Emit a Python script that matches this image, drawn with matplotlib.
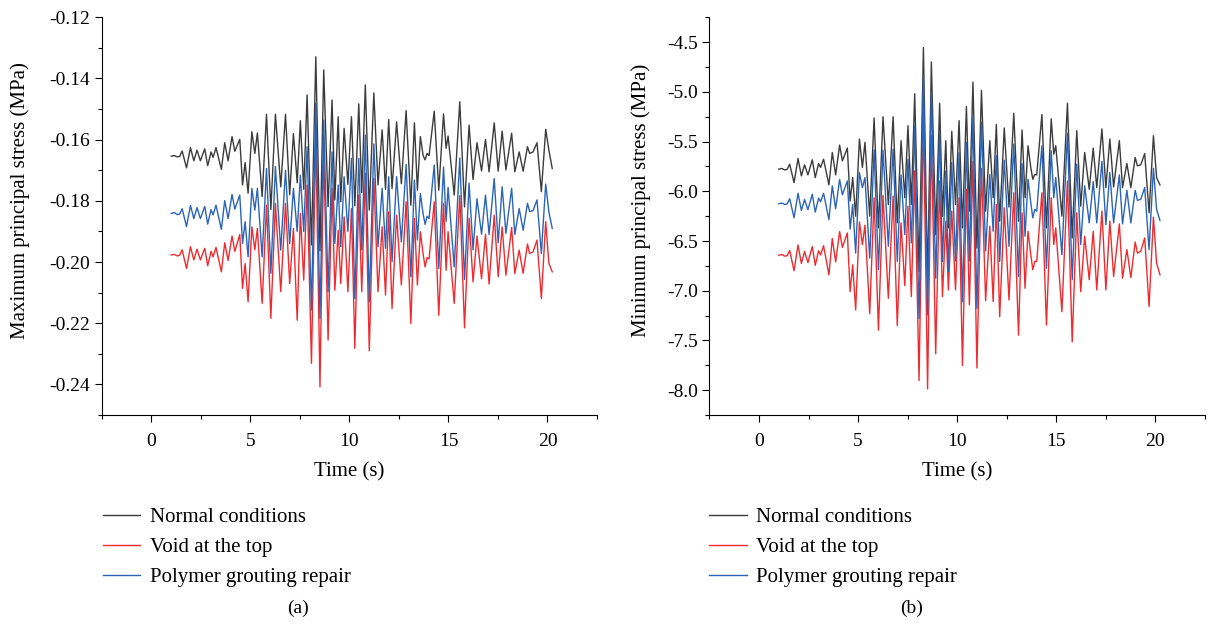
import numpy as np
import matplotlib
matplotlib.use('Agg')
import matplotlib.pyplot as plt
from matplotlib.ticker import MultipleLocator, FormatStrFormatter

plt.rcParams['font.family'] = ['Liberation Serif', 'DejaVu Serif']
plt.rcParams['axes.unicode_minus'] = False

# time of each read peak / trough (s), shared by all curves
time_s = [1.00, 1.15, 1.30, 1.42, 1.55, 1.77, 1.97, 2.14, 2.30, 2.47,
          2.69, 2.84, 3.01, 3.11, 3.26, 3.53, 3.70, 3.87, 4.07, 4.21,
          4.46, 4.60, 4.73, 4.88, 5.07, 5.22, 5.35, 5.59, 5.81, 6.03,
          6.26, 6.53, 6.77, 6.98, 7.17, 7.36, 7.52, 7.69, 7.86, 8.08,
          8.30, 8.51, 8.70, 8.92, 9.12, 9.26, 9.43, 9.56, 9.73, 9.92,
          10.10, 10.27, 10.47, 10.62, 10.80, 11.00, 11.23, 11.44, 11.65, 11.82,
          11.98, 12.15, 12.38, 12.62, 12.86, 13.10, 13.28, 13.43, 13.58, 13.72,
          13.82, 13.92, 14.02, 14.28, 14.51, 14.75, 14.88, 14.98, 15.29, 15.57,
          15.81, 16.04, 16.24, 16.44, 16.67, 16.87, 17.05, 17.31, 17.51, 17.71,
          17.90, 18.19, 18.35, 18.57, 18.77, 18.99, 19.10, 19.27, 19.47, 19.69,
          19.91, 20.07, 20.24]

# (a) maximum principal stress (MPa)
max_normal = [-0.1654, -0.1652, -0.1656, -0.1655, -0.1637, -0.1692, -0.1626, -0.1669, -0.1634, -0.1669,
              -0.1630, -0.1685, -0.1640, -0.1658, -0.1626, -0.1697, -0.1610, -0.1669, -0.1590, -0.1638,
              -0.1599, -0.1748, -0.1675, -0.1775, -0.1574, -0.1645, -0.1578, -0.1786, -0.1517, -0.1828,
              -0.1517, -0.1754, -0.1517, -0.1780, -0.1580, -0.1741, -0.1538, -0.1762, -0.1454, -0.1944,
              -0.1329, -0.1963, -0.1372, -0.1819, -0.1470, -0.1797, -0.1525, -0.1803, -0.1563, -0.1746,
              -0.1525, -0.1816, -0.1483, -0.1773, -0.1421, -0.1830, -0.1447, -0.1748, -0.1568, -0.1762,
              -0.1534, -0.1760, -0.1542, -0.1744, -0.1505, -0.1814, -0.1545, -0.1765, -0.1590, -0.1652,
              -0.1666, -0.1645, -0.1652, -0.1507, -0.1765, -0.1516, -0.1628, -0.1588, -0.1781, -0.1476,
              -0.1820, -0.1552, -0.1730, -0.1610, -0.1702, -0.1599, -0.1705, -0.1545, -0.1703, -0.1572,
              -0.1699, -0.1579, -0.1705, -0.1640, -0.1703, -0.1623, -0.1645, -0.1640, -0.1610, -0.1770,
              -0.1566, -0.1634, -0.1694]
max_void = [-0.1977, -0.1975, -0.1980, -0.1978, -0.1960, -0.2021, -0.1950, -0.1993, -0.1958, -0.1993,
            -0.1955, -0.2012, -0.1965, -0.1983, -0.1952, -0.2032, -0.1937, -0.1995, -0.1915, -0.1965,
            -0.1910, -0.2086, -0.2005, -0.2130, -0.1885, -0.1960, -0.1890, -0.2135, -0.1814, -0.2184,
            -0.1808, -0.2097, -0.1808, -0.2070, -0.1890, -0.2190, -0.1841, -0.2059, -0.1748, -0.2331,
            -0.1585, -0.2408, -0.1640, -0.2255, -0.1759, -0.2092, -0.1896, -0.2070, -0.1852, -0.2097,
            -0.1825, -0.2282, -0.1781, -0.2097, -0.1710, -0.2290, -0.1727, -0.2097, -0.1885, -0.2108,
            -0.1836, -0.2152, -0.1847, -0.2075, -0.1803, -0.2201, -0.1857, -0.2075, -0.1901, -0.1975,
            -0.2016, -0.1985, -0.1990, -0.1803, -0.2174, -0.1808, -0.2027, -0.1901, -0.2135, -0.1783,
            -0.2215, -0.1857, -0.2065, -0.1915, -0.2055, -0.1909, -0.2072, -0.1847, -0.2048, -0.1885,
            -0.2043, -0.1887, -0.2038, -0.1961, -0.2037, -0.1941, -0.1972, -0.1967, -0.1928, -0.2119,
            -0.1868, -0.2004, -0.2032]
max_repair = [-0.1841, -0.1838, -0.1845, -0.1843, -0.1826, -0.1884, -0.1815, -0.1858, -0.1822, -0.1858,
              -0.1818, -0.1876, -0.1829, -0.1846, -0.1814, -0.1893, -0.1799, -0.1858, -0.1779, -0.1827,
              -0.1781, -0.1939, -0.1868, -0.1983, -0.1759, -0.1830, -0.1759, -0.1983, -0.1694, -0.2037,
              -0.1688, -0.1961, -0.1700, -0.1940, -0.1759, -0.1900, -0.1716, -0.1900, -0.1623, -0.2157,
              -0.1481, -0.2184, -0.1536, -0.2097, -0.1640, -0.1939, -0.1748, -0.1950, -0.1721, -0.1900,
              -0.1661, -0.2119, -0.1661, -0.1960, -0.1585, -0.2130, -0.1614, -0.1950, -0.1759, -0.1955,
              -0.1721, -0.1999, -0.1721, -0.1934, -0.1681, -0.2048, -0.1732, -0.1928, -0.1776, -0.1843,
              -0.1877, -0.1850, -0.1858, -0.1683, -0.2021, -0.1689, -0.1868, -0.1756, -0.2016, -0.1660,
              -0.2057, -0.1742, -0.1960, -0.1793, -0.1909, -0.1781, -0.1910, -0.1727, -0.1937, -0.1754,
              -0.1906, -0.1759, -0.1910, -0.1825, -0.1896, -0.1808, -0.1835, -0.1832, -0.1797, -0.1972,
              -0.1745, -0.1836, -0.1890]

# (b) minimum principal stress (MPa)
min_normal = [-5.778, -5.770, -5.785, -5.780, -5.727, -5.913, -5.670, -5.845, -5.734, -5.835,
              -5.683, -5.862, -5.721, -5.760, -5.677, -5.936, -5.609, -5.835, -5.535, -5.694,
              -5.565, -6.098, -5.862, -6.250, -5.474, -5.761, -5.507, -6.250, -5.262, -6.368,
              -5.250, -6.132, -5.250, -6.317, -5.491, -6.065, -5.340, -6.132, -5.019, -6.806,
              -4.554, -6.907, -4.699, -6.435, -5.114, -6.250, -5.491, -6.368, -5.397, -6.132,
              -5.289, -6.368, -5.147, -6.200, -4.902, -6.570, -4.986, -6.200, -5.491, -6.065,
              -5.329, -6.300, -5.363, -6.159, -5.215, -6.300, -5.383, -6.065, -5.542, -5.761,
              -5.879, -5.830, -5.835, -5.228, -6.368, -5.272, -5.626, -5.542, -6.250, -5.114,
              -6.469, -5.390, -6.149, -5.609, -5.980, -5.565, -5.963, -5.373, -5.963, -5.474,
              -5.956, -5.491, -5.963, -5.721, -5.963, -5.660, -5.744, -5.734, -5.620, -6.216,
              -5.441, -5.862, -5.936]
min_void = [-6.644, -6.635, -6.652, -6.648, -6.595, -6.799, -6.540, -6.725, -6.605, -6.718,
            -6.555, -6.745, -6.598, -6.640, -6.548, -6.840, -6.475, -6.710, -6.405, -6.565,
            -6.419, -7.009, -6.739, -7.194, -6.308, -6.537, -6.341, -7.230, -6.065, -7.397,
            -6.040, -7.076, -6.048, -7.350, -6.317, -6.950, -6.149, -7.059, -5.795, -7.902,
            -5.238, -7.987, -5.441, -7.633, -5.896, -7.059, -6.300, -6.992, -6.199, -6.992,
            -6.065, -7.751, -5.980, -7.143, -5.700, -7.777, -5.770, -7.100, -6.350, -7.110,
            -6.132, -7.261, -6.166, -7.093, -6.014, -7.447, -6.216, -6.975, -6.402, -6.638,
            -6.789, -6.705, -6.705, -6.014, -7.346, -6.065, -6.536, -6.368, -7.211, -5.896,
            -7.514, -6.216, -7.009, -6.452, -6.890, -6.402, -6.992, -6.199, -6.992, -6.300,
            -6.857, -6.328, -6.874, -6.587, -6.867, -6.510, -6.621, -6.604, -6.469, -7.160,
            -6.260, -6.722, -6.840]
min_repair = [-6.125, -6.118, -6.132, -6.128, -6.075, -6.267, -6.020, -6.192, -6.082, -6.185,
              -6.030, -6.210, -6.068, -6.105, -6.020, -6.285, -5.946, -6.175, -5.880, -6.035,
              -5.896, -6.380, -6.132, -6.621, -5.812, -5.963, -5.862, -6.672, -5.586, -6.789,
              -5.586, -6.553, -5.575, -6.705, -5.835, -6.435, -5.677, -6.520, -5.340, -7.279,
              -4.834, -7.245, -5.003, -6.874, -5.424, -6.705, -5.795, -6.806, -5.711, -6.700,
              -5.609, -7.110, -5.508, -6.700, -5.240, -7.177, -5.306, -6.600, -5.830, -6.402,
              -5.643, -6.705, -5.687, -6.553, -5.525, -6.857, -5.721, -6.452, -5.879, -6.115,
              -6.267, -6.183, -6.200, -5.542, -6.773, -5.592, -6.065, -5.862, -6.638, -5.417,
              -6.890, -5.727, -6.536, -5.946, -6.318, -5.903, -6.318, -5.700, -6.334, -5.812,
              -6.318, -5.835, -6.328, -5.990, -6.318, -5.990, -6.091, -6.081, -5.963, -6.587,
              -5.768, -6.183, -6.293]

labels = ['Normal conditions', 'Void at the top', 'Polymer grouting repair']
colors = ['#3c3c3c', '#ee2c30', '#2b64b6']

fig = plt.figure(figsize=(12.08, 6.27), dpi=100)
ax_a = fig.add_axes([0.0844, 0.3381, 0.4098, 0.6343])
ax_b = fig.add_axes([0.5873, 0.3381, 0.4100, 0.6343])

panels = [
    (ax_a, [max_normal, max_void, max_repair], (-0.25, -0.12), 0.02, '%.2f',
     'Maximum principal stress (MPa)', -0.146, 0.085, 0.2467, '(a)'),
    (ax_b, [min_normal, min_void, min_repair], (-8.25, -4.25), 0.5, '%.1f',
     'Minimum principal stress (MPa)', -0.119, 0.5870, 0.755, '(b)'),
]

for ax, series, ylim, ystep, yfmt, ylabel, ylab_x, leg_x, cap_x, cap in panels:
    lines = []
    for vals, lab, col in zip(series, labels, colors):
        ln, = ax.plot(time_s, vals, color=col, lw=1.0, label=lab)
        lines.append(ln)
    ax.set_xlim(-2.5, 22.5)
    ax.set_ylim(*ylim)
    ax.xaxis.set_major_locator(MultipleLocator(5))
    ax.xaxis.set_minor_locator(MultipleLocator(2.5))
    ax.yaxis.set_major_locator(MultipleLocator(ystep))
    ax.yaxis.set_minor_locator(MultipleLocator(ystep / 2))
    ax.yaxis.set_major_formatter(FormatStrFormatter(yfmt))
    ax.tick_params(which='both', direction='out', labelsize=14, width=0.8)
    ax.tick_params(which='major', length=5)
    ax.tick_params(which='minor', length=3)
    ax.tick_params(axis='x', which='major', pad=8)
    for s in ['top', 'right']:
        ax.spines[s].set_visible(False)
    ax.set_xlabel('Time (s)', fontsize=15, labelpad=9)
    ax.set_ylabel(ylabel, fontsize=15)
    ax.yaxis.set_label_coords(ylab_x, 0.54)
    ax.legend(handles=lines, loc='upper left', bbox_to_anchor=(leg_x, 0.190),
              bbox_transform=fig.transFigure, frameon=False, fontsize=15,
              handlelength=1.8, handletextpad=0.45, labelspacing=0.5,
              borderaxespad=0, borderpad=0)
    fig.text(cap_x, 0.030, cap, ha='center', va='center', fontsize=14)

fig.savefig('out.png', dpi=100)
